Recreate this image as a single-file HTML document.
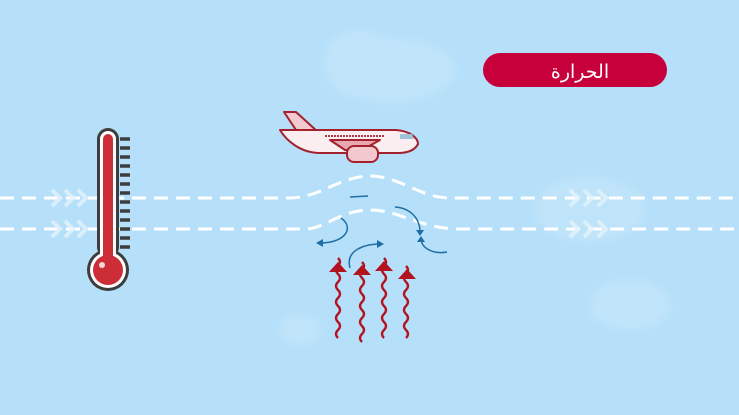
<!DOCTYPE html>
<html><head><meta charset="utf-8"><style>
html,body{margin:0;padding:0;width:739px;height:415px;overflow:hidden;background:#b6e0f9}
</style></head><body>
<svg width="739" height="415" viewBox="0 0 739 415" xmlns="http://www.w3.org/2000/svg">
<defs><filter id="bl"><feGaussianBlur stdDeviation="4"/></filter></defs>
<rect width="739" height="415" fill="#b6e0f9"/>
<g fill="#c2e5fa" filter="url(#bl)" opacity="0.8">
<ellipse cx="390" cy="70" rx="65" ry="32"/><ellipse cx="360" cy="60" rx="35" ry="30"/>
<ellipse cx="590" cy="210" rx="55" ry="32"/><ellipse cx="630" cy="305" rx="40" ry="25"/>
<ellipse cx="300" cy="330" rx="20" ry="15"/>
</g>
<g stroke="#fff" stroke-width="3" fill="none" stroke-dasharray="14,8">
<path d="M0 198 H290 C320 198 340 176 370 176 C400 176 420 198 450 198 H739"/>
<path d="M0 229 H305 C325 229 340 210 370 210 C400 210 420 229 460 229 H739"/>
</g>
<g stroke="#e4f3fc" stroke-width="4" fill="none" opacity="0.8">
<path d="M52 190 l8 8 -8 8 M65 190 l8 8 -8 8 M78 190 l8 8 -8 8"/>
<path d="M52 221 l8 8 -8 8 M65 221 l8 8 -8 8 M78 221 l8 8 -8 8"/>
<path d="M570 190 l8 8 -8 8 M584 190 l8 8 -8 8 M598 190 l8 8 -8 8"/>
<path d="M570 221 l8 8 -8 8 M584 221 l8 8 -8 8 M598 221 l8 8 -8 8"/>
</g>
<g stroke="#3d3d3d" stroke-width="3.5">
<path d="M120 139h10M120 148h10M120 157h10M120 166h10M120 175h10M120 184h10M120 193h10M120 202h10M120 211h10M120 220h10M120 229h10M120 238h10M120 247h10"/>
</g>
<rect x="97" y="128" width="22" height="130" rx="11" fill="#3d3d3d"/>
<circle cx="108" cy="270" r="21" fill="#3d3d3d"/>
<rect x="100" y="131" width="16" height="130" rx="8" fill="#fff"/>
<circle cx="108" cy="270" r="18" fill="#fff"/>
<rect x="103" y="134" width="10" height="130" rx="5" fill="#cc2d36"/>
<circle cx="108" cy="270" r="15" fill="#cc2d36"/>
<circle cx="102" cy="265" r="3" fill="#fff" opacity="0.8"/>
<g stroke="#a3222e" stroke-width="2" stroke-linejoin="round">
<path d="M284 112 L296 112 L318 132 L300 136 Z" fill="#f3c9cf"/>
<path d="M280 130 L396 130 C410 131 418 138 418 144 C415 150 408 153 398 153 L320 153 C300 153 286 140 280 130 Z" fill="#fbeef0"/>
<path d="M330 140 L380 140 L362 150 L345 150 Z" fill="#e8a8b0"/>
<rect x="347" y="146" width="31" height="16" rx="7" fill="#f3c9cf"/>
</g>
<path d="M325 136 H385" stroke="#b03a48" stroke-width="2" stroke-dasharray="2,1"/>
<path d="M400 134 L412 134 L414 139 L400 139 Z" fill="#9ec3d8"/>
<g stroke="#1f6fa6" stroke-width="1.5" fill="none">
<path d="M350 197 L368 196"/>
<path d="M341 218 C355 228 345 243 320 243"/>
<path d="M350 268 C345 250 365 244 380 244"/>
<path d="M395 207 C410 208 420 218 420 232"/>
<path d="M447 252 C430 255 420 245 422 240"/>
</g>
<g fill="#1f6fa6">
<path d="M316 243 l7 -4 0 8z"/><path d="M384 244 l-7 -4 0 8z"/>
<path d="M420 236 l-4 -6 8 0z"/><path d="M421 236 l-4 6 8 0z"/>
</g>
<g stroke="#b3121f" stroke-width="2.3" fill="none">
<path d="M338 258 q4 4 0 8 q-4 4 0 8 q4 4 0 8 q-4 4 0 8 q4 4 0 8 q-4 4 0 8 q4 4 0 8 q-4 4 0 8 q4 4 0 8 q-4 4 0 8"/>
<path d="M362 262 q4 4 0 8 q-4 4 0 8 q4 4 0 8 q-4 4 0 8 q4 4 0 8 q-4 4 0 8 q4 4 0 8 q-4 4 0 8 q4 4 0 8 q-4 4 0 8"/>
<path d="M384 258 q4 4 0 8 q-4 4 0 8 q4 4 0 8 q-4 4 0 8 q4 4 0 8 q-4 4 0 8 q4 4 0 8 q-4 4 0 8 q4 4 0 8 q-4 4 0 8"/>
<path d="M406 266 q4 4 0 8 q-4 4 0 8 q4 4 0 8 q-4 4 0 8 q4 4 0 8 q-4 4 0 8 q4 4 0 8 q-4 4 0 8 q4 4 0 8"/>
</g>
<g fill="#b3121f">
<path d="M329 272 L338 262 L347 272 Z"/><path d="M353 275 L362 265 L371 275 Z"/>
<path d="M375 271 L384 261 L393 271 Z"/><path d="M398 279 L407 269 L416 279 Z"/>
</g>
<rect x="483" y="53" width="184" height="34" rx="17" fill="#c7003b"/>
<text x="580" y="78" font-family="'DejaVu Sans',sans-serif" font-size="19" fill="#fff" text-anchor="middle">الحرارة</text>
</svg>
</body></html>
